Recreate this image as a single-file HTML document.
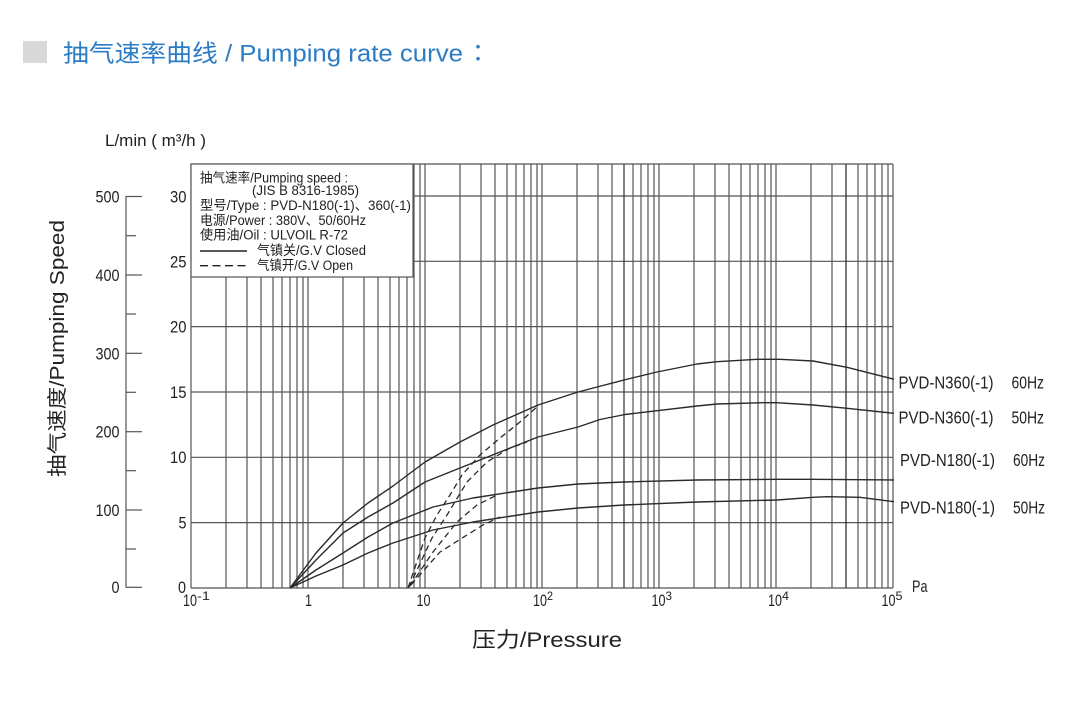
<!DOCTYPE html>
<html><head><meta charset="utf-8"><style>
html,body{margin:0;padding:0;background:#fff;}
svg{display:block;}
</style></head><body>
<svg width="1091" height="702" viewBox="0 0 1091 702" xmlns="http://www.w3.org/2000/svg" font-family="'Liberation Sans','Noto Sans CJK SC',sans-serif">
<rect width="1091" height="702" fill="#fff"/>
<!-- Title -->
<rect x="23" y="41" width="24" height="22" fill="#d9d9d9"/>
<text x="63" y="61.5" font-size="24" fill="#2c7cc4" textLength="400" lengthAdjust="spacingAndGlyphs">抽气速率曲线 / Pumping rate curve</text>
<text x="466" y="61.5" font-size="24" fill="#2c7cc4" font-family="'Noto Sans CJK TC',sans-serif">：</text>

<!-- unit label -->
<text x="105" y="146" font-size="16.5" fill="#222" textLength="101" lengthAdjust="spacingAndGlyphs">L/min ( m³/h )</text>

<!-- left axis -->
<g stroke="#555" stroke-width="1.2" fill="none">
<line x1="126" y1="196" x2="126" y2="587.5"/>
<line x1="126" y1="196.5" x2="142" y2="196.5"/>
<line x1="126" y1="275" x2="142" y2="275"/>
<line x1="126" y1="353.3" x2="142" y2="353.3"/>
<line x1="126" y1="431.7" x2="142" y2="431.7"/>
<line x1="126" y1="510" x2="142" y2="510"/>
<line x1="126" y1="587.3" x2="142" y2="587.3"/>
<line x1="126" y1="235.7" x2="136" y2="235.7"/>
<line x1="126" y1="314" x2="136" y2="314"/>
<line x1="126" y1="392.3" x2="136" y2="392.3"/>
<line x1="126" y1="470.7" x2="136" y2="470.7"/>
<line x1="126" y1="549" x2="136" y2="549"/>
</g>
<g font-size="17" fill="#222" text-anchor="end">
<text x="119.5" y="202.5" textLength="24" lengthAdjust="spacingAndGlyphs">500</text>
<text x="119.5" y="281" textLength="24" lengthAdjust="spacingAndGlyphs">400</text>
<text x="119.5" y="359.3" textLength="24" lengthAdjust="spacingAndGlyphs">300</text>
<text x="119.5" y="437.7" textLength="24" lengthAdjust="spacingAndGlyphs">200</text>
<text x="119.5" y="516" textLength="24" lengthAdjust="spacingAndGlyphs">100</text>
<text x="119.5" y="593" textLength="8" lengthAdjust="spacingAndGlyphs">0</text>
</g>
<g font-size="17" fill="#222" text-anchor="end">
<text x="186.5" y="202.5" textLength="16.5" lengthAdjust="spacingAndGlyphs">30</text>
<text x="186.5" y="267.5" textLength="16.5" lengthAdjust="spacingAndGlyphs">25</text>
<text x="186.5" y="332.5" textLength="16.5" lengthAdjust="spacingAndGlyphs">20</text>
<text x="186.5" y="398" textLength="16.5" lengthAdjust="spacingAndGlyphs">15</text>
<text x="186.5" y="463" textLength="16.5" lengthAdjust="spacingAndGlyphs">10</text>
<text x="186.5" y="528.5" textLength="8" lengthAdjust="spacingAndGlyphs">5</text>
<text x="186" y="593" textLength="8" lengthAdjust="spacingAndGlyphs">0</text>
</g>

<!-- rotated y label -->
<text x="64" y="477" font-size="20" fill="#222" transform="rotate(-90 64 477)" textLength="257" lengthAdjust="spacingAndGlyphs">抽气速度/Pumping Speed</text>

<!-- grid -->
<g stroke="#555" stroke-width="1.2" fill="none">
<line x1="191" y1="588" x2="893" y2="588"/>
<line x1="191" y1="522.6" x2="893" y2="522.6"/>
<line x1="191" y1="457.3" x2="893" y2="457.3"/>
<line x1="191" y1="392" x2="893" y2="392"/>
<line x1="191" y1="326.6" x2="893" y2="326.6"/>
<line x1="191" y1="261.3" x2="893" y2="261.3"/>
<line x1="191" y1="196" x2="893" y2="196"/>
<line x1="191" y1="164" x2="893" y2="164"/>
<line x1="191" y1="164" x2="191" y2="588"/>
<line x1="893" y1="164" x2="893" y2="588"/>
<line x1="226" y1="164" x2="226" y2="588"/>
<line x1="247" y1="164" x2="247" y2="588"/>
<line x1="261" y1="164" x2="261" y2="588"/>
<line x1="273" y1="164" x2="273" y2="588"/>
<line x1="282" y1="164" x2="282" y2="588"/>
<line x1="290" y1="164" x2="290" y2="588"/>
<line x1="297" y1="164" x2="297" y2="588"/>
<line x1="303" y1="164" x2="303" y2="588"/>
<line x1="308" y1="164" x2="308" y2="588"/>
<line x1="343" y1="164" x2="343" y2="588"/>
<line x1="364" y1="164" x2="364" y2="588"/>
<line x1="378" y1="164" x2="378" y2="588"/>
<line x1="390" y1="164" x2="390" y2="588"/>
<line x1="399" y1="164" x2="399" y2="588"/>
<line x1="407" y1="164" x2="407" y2="588"/>
<line x1="414" y1="164" x2="414" y2="588"/>
<line x1="420" y1="164" x2="420" y2="588"/>
<line x1="425" y1="164" x2="425" y2="588"/>
<line x1="460" y1="164" x2="460" y2="588"/>
<line x1="481" y1="164" x2="481" y2="588"/>
<line x1="495" y1="164" x2="495" y2="588"/>
<line x1="507" y1="164" x2="507" y2="588"/>
<line x1="516" y1="164" x2="516" y2="588"/>
<line x1="524" y1="164" x2="524" y2="588"/>
<line x1="531" y1="164" x2="531" y2="588"/>
<line x1="537" y1="164" x2="537" y2="588"/>
<line x1="542" y1="164" x2="542" y2="588"/>
<line x1="577" y1="164" x2="577" y2="588"/>
<line x1="598" y1="164" x2="598" y2="588"/>
<line x1="612" y1="164" x2="612" y2="588"/>
<line x1="624" y1="164" x2="624" y2="588" stroke="#333"/>
<line x1="633" y1="164" x2="633" y2="588"/>
<line x1="641" y1="164" x2="641" y2="588"/>
<line x1="648" y1="164" x2="648" y2="588"/>
<line x1="654" y1="164" x2="654" y2="588"/>
<line x1="659" y1="164" x2="659" y2="588"/>
<line x1="694" y1="164" x2="694" y2="588"/>
<line x1="715" y1="164" x2="715" y2="588"/>
<line x1="729" y1="164" x2="729" y2="588"/>
<line x1="741" y1="164" x2="741" y2="588"/>
<line x1="750" y1="164" x2="750" y2="588"/>
<line x1="758" y1="164" x2="758" y2="588"/>
<line x1="765" y1="164" x2="765" y2="588"/>
<line x1="771" y1="164" x2="771" y2="588"/>
<line x1="776" y1="164" x2="776" y2="588"/>
<line x1="811" y1="164" x2="811" y2="588"/>
<line x1="832" y1="164" x2="832" y2="588"/>
<line x1="846" y1="164" x2="846" y2="588" stroke="#222"/>
<line x1="858" y1="164" x2="858" y2="588"/>
<line x1="867" y1="164" x2="867" y2="588"/>
<line x1="875" y1="164" x2="875" y2="588"/>
<line x1="882" y1="164" x2="882" y2="588"/>
<line x1="888" y1="164" x2="888" y2="588"/>
</g>

<!-- legend box -->
<rect x="191" y="164" width="222" height="113" fill="#fff" stroke="#555" stroke-width="1.2"/>
<g font-size="13.5" fill="#222">
<text x="200" y="182.5" textLength="148" lengthAdjust="spacingAndGlyphs">抽气速率/Pumping speed :</text>
<text x="252" y="195" textLength="107" lengthAdjust="spacingAndGlyphs">(JIS B 8316-1985)</text>
<text x="200" y="210" textLength="211" lengthAdjust="spacingAndGlyphs">型号/Type  : PVD-N180(-1)、360(-1)</text>
<text x="200" y="225" textLength="166" lengthAdjust="spacingAndGlyphs">电源/Power  : 380V、50/60Hz</text>
<text x="200" y="239.5" textLength="148" lengthAdjust="spacingAndGlyphs">使用油/Oil : ULVOIL R-72</text>
<text x="257" y="255" textLength="109" lengthAdjust="spacingAndGlyphs">气镇关/G.V Closed</text>
<text x="257" y="270" textLength="96" lengthAdjust="spacingAndGlyphs">气镇开/G.V Open</text>
</g>
<line x1="200" y1="251" x2="247" y2="251" stroke="#222" stroke-width="1.4"/>
<line x1="200" y1="265.7" x2="247" y2="265.7" stroke="#222" stroke-width="1.4" stroke-dasharray="8 4.5"/>

<!-- curves -->
<g stroke="#2a2a2a" stroke-width="1.4" fill="none" stroke-linejoin="round">
<polyline points="290,588 316,553 343,523 368,503 393,486 425,462 460,442 493,425 538,405 578,392 624,380 657,372 697,364 717,361.7 757,359.3 780,359.3 813,361 847,367.3 894,379.3"/>
<polyline points="290,588 316,560 343,533 368,517 393,503 425,482 480,460 538,437 578,427 600,419.5 625,414.5 697,406 717,404 763,402.7 777,402.7 813,405 847,408.3 894,413.3"/>
<polyline points="290,588 316,570 343,553 368,537 393,523 433,507 473,498 538,488 578,484 624,482 697,480 777,479.3 813,479.3 894,480"/>
<polyline points="290,588 316,576 343,565 368,553 393,543 433,530 473,522 538,512 578,508 624,505 697,502 777,500 813,497.3 827,496.7 860,497.3 894,501.7"/>
</g>
<g stroke="#2a2a2a" stroke-width="1.3" fill="none" stroke-dasharray="6 4" stroke-linejoin="round">
<polyline points="408,588 425,538 437,515 450,495 462,475 480,455 500,438 520,422 538,406"/>
<polyline points="409,587 432,538 447,515 467,482 487,462 510,448 527,442"/>
<polyline points="410,586 433,552 457,522 477,505 497,495"/>
<polyline points="411,585 440,552 467,535 483,525 500,517"/>
</g>

<!-- x tick labels -->
<g font-size="17" fill="#222">
<text x="183" y="606" textLength="14" lengthAdjust="spacingAndGlyphs">10</text>
<text x="197" y="600" font-size="11.5" textLength="13" lengthAdjust="spacingAndGlyphs">-1</text>
<text x="305" y="606" textLength="7" lengthAdjust="spacingAndGlyphs">1</text>
<text x="416.5" y="606" textLength="14" lengthAdjust="spacingAndGlyphs">10</text>
<text x="533" y="606" textLength="14" lengthAdjust="spacingAndGlyphs">10</text>
<text x="547" y="600" font-size="11.5" textLength="6" lengthAdjust="spacingAndGlyphs">2</text>
<text x="651.5" y="606" textLength="14" lengthAdjust="spacingAndGlyphs">10</text>
<text x="665.5" y="600" font-size="11.5" textLength="6.5" lengthAdjust="spacingAndGlyphs">3</text>
<text x="768" y="606" textLength="14" lengthAdjust="spacingAndGlyphs">10</text>
<text x="782" y="600" font-size="11.5" textLength="7" lengthAdjust="spacingAndGlyphs">4</text>
<text x="881.5" y="606" textLength="14" lengthAdjust="spacingAndGlyphs">10</text>
<text x="895.5" y="600" font-size="11.5" textLength="7" lengthAdjust="spacingAndGlyphs">5</text>
<text x="912" y="592" textLength="15.5" lengthAdjust="spacingAndGlyphs">Pa</text>
</g>

<!-- x axis title -->
<text x="472" y="647" font-size="21" fill="#222" textLength="150" lengthAdjust="spacingAndGlyphs">压力/Pressure</text>

<!-- right labels -->
<g font-size="17.5" fill="#222">
<text x="898.5" y="388.3" textLength="95" lengthAdjust="spacingAndGlyphs">PVD-N360(-1)</text>
<text x="1011.5" y="388.3" textLength="32.5" lengthAdjust="spacingAndGlyphs">60Hz</text>
<text x="898.5" y="423.3" textLength="95" lengthAdjust="spacingAndGlyphs">PVD-N360(-1)</text>
<text x="1011.5" y="423.3" textLength="32.5" lengthAdjust="spacingAndGlyphs">50Hz</text>
<text x="900" y="466" textLength="95" lengthAdjust="spacingAndGlyphs">PVD-N180(-1)</text>
<text x="1013" y="466" textLength="32" lengthAdjust="spacingAndGlyphs">60Hz</text>
<text x="900" y="513.3" textLength="95" lengthAdjust="spacingAndGlyphs">PVD-N180(-1)</text>
<text x="1013" y="513.3" textLength="32" lengthAdjust="spacingAndGlyphs">50Hz</text>
</g>
</svg>
</body></html>
